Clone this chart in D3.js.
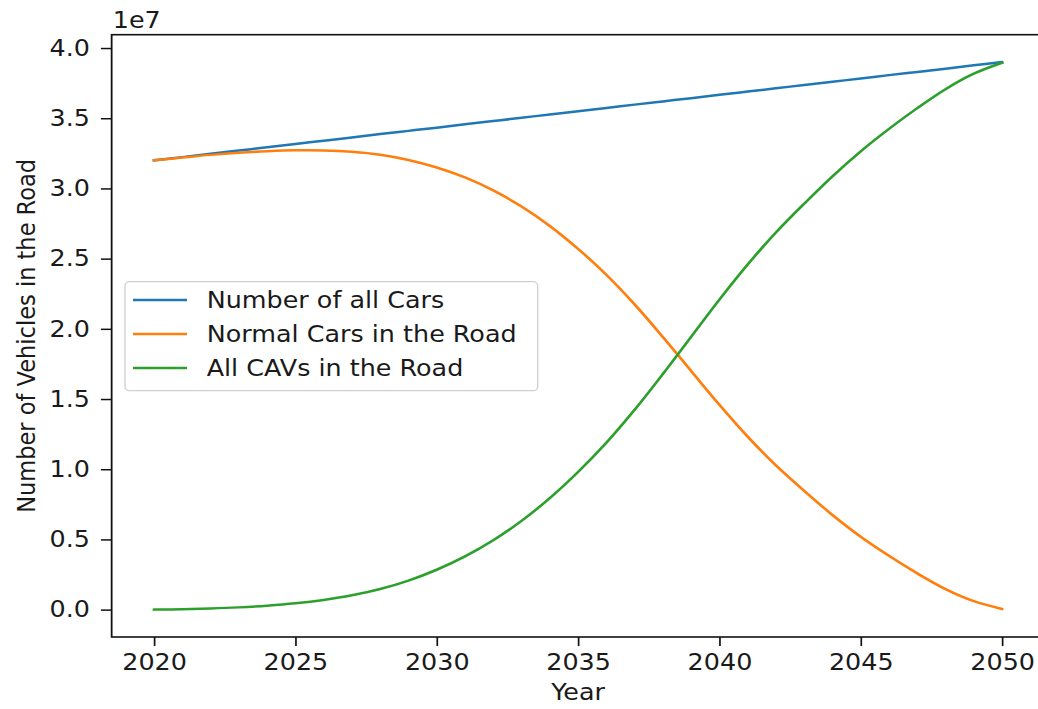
<!DOCTYPE html>
<html>
<head>
<meta charset="utf-8">
<script src="https://cdn.jsdelivr.net/npm/d3@7"></script>
<style>
  body { margin: 0; background: #fff; }
  text { font-family: "DejaVu Sans", sans-serif; fill: #1a1a1a; }
</style>
</head>
<body>
<div id="chart"></div>
<script>
// values in units of 1e7 vehicles
const years = [2020, 2021, 2022, 2023, 2024, 2025, 2026, 2027, 2028, 2029,
               2030, 2031, 2032, 2033, 2034, 2035, 2036, 2037, 2038, 2039,
               2040, 2041, 2042, 2043, 2044, 2045, 2046, 2047, 2048, 2049, 2050];

const allCars = [3.200, 3.223, 3.247, 3.270, 3.293, 3.317, 3.340, 3.363, 3.387, 3.410,
                 3.433, 3.457, 3.480, 3.503, 3.527, 3.550, 3.573, 3.597, 3.620, 3.643,
                 3.667, 3.690, 3.713, 3.737, 3.760, 3.783, 3.807, 3.830, 3.853, 3.877, 3.900];

const normalCars = [3.200, 3.220, 3.239, 3.254, 3.265, 3.272, 3.271, 3.261, 3.240, 3.203,
                    3.149, 3.078, 2.986, 2.871, 2.733, 2.570, 2.385, 2.174, 1.942, 1.700,
                    1.459, 1.232, 1.027, 0.846, 0.674, 0.519, 0.383, 0.258, 0.146, 0.060, 0.005];

const cavs = [0.000, 0.003, 0.008, 0.016, 0.028, 0.045, 0.069, 0.102, 0.147, 0.207,
              0.284, 0.379, 0.494, 0.632, 0.794, 0.980, 1.188, 1.423, 1.678, 1.943,
              2.208, 2.458, 2.686, 2.891, 3.086, 3.264, 3.424, 3.572, 3.707, 3.817, 3.895];

const seriesNames = ["Number of all Cars", "Normal Cars in the Road", "All CAVs in the Road"];
const seriesColors = ["#1f77b4", "#ff7f0e", "#2ca02c"];

const xTicks = [2020, 2025, 2030, 2035, 2040, 2045, 2050];
const yTicks = [0.0, 0.5, 1.0, 1.5, 2.0, 2.5, 3.0, 3.5, 4.0];

const W = 1038, H = 709;
const sx = 1.13; // the picture is a bit wider than tall
const fontSize = 22.5;

const box = {left: 98.8, right: 924.3, top: 34.7, bottom: 637};

const svg = d3.select("#chart").append("svg")
  .attr("width", W)
  .attr("height", H);

const g = svg.append("g").attr("transform", `scale(${sx},1)`);

const x = d3.scaleLinear()
  .domain([2018.5, 2051.5])
  .range([box.left, box.right]);

const y = d3.scaleLinear()
  .domain([-0.195, 4.095])
  .range([box.bottom, box.top]);

// axes
const xAxis = g.append("g")
  .attr("transform", `translate(0,${box.bottom})`)
  .call(d3.axisBottom(x).tickValues(xTicks).tickFormat(d3.format("d"))
    .tickSize(9).tickPadding(8));

const yAxis = g.append("g")
  .attr("transform", `translate(${box.left},0)`)
  .call(d3.axisLeft(y).tickValues(yTicks).tickFormat(d3.format(".1f"))
    .tickSize(9.5).tickPadding(9.7));

[xAxis, yAxis].forEach(a => {
  a.select(".domain").remove();
  a.selectAll(".tick line").attr("stroke", "#111").attr("stroke-width", 1.5);
  a.selectAll(".tick text").style("font-size", fontSize + "px")
    .style("font-family", '"DejaVu Sans", sans-serif').attr("fill", "#1a1a1a");
});

// lines
const seriesData = [allCars, normalCars, cavs];

const line = d3.line()
  .x((d, i) => x(years[i]))
  .y(d => y(d))
  .curve(d3.curveCatmullRom.alpha(0.5));

seriesData.forEach((vals, k) => {
  g.append("path")
    .attr("d", line(vals))
    .attr("fill", "none")
    .attr("stroke", seriesColors[k])
    .attr("stroke-width", 2.5)
    .attr("stroke-linejoin", "round")
    .attr("stroke-linecap", "square");
});

// frame
g.append("rect")
  .attr("x", box.left)
  .attr("y", box.top)
  .attr("width", box.right - box.left)
  .attr("height", box.bottom - box.top)
  .attr("fill", "none")
  .attr("stroke", "#111")
  .attr("stroke-width", 1.6);

// offset text
g.append("text")
  .attr("x", box.left + 1)
  .attr("y", 28)
  .style("font-size", fontSize + "px")
  .text("1e7");

// axis titles
g.append("text")
  .attr("x", (box.left + box.right) / 2)
  .attr("y", 700)
  .attr("text-anchor", "middle")
  .style("font-size", fontSize + "px")
  .text("Year");

g.append("text")
  .attr("transform", `translate(31,${(box.top + box.bottom) / 2}) rotate(-90)`)
  .attr("text-anchor", "middle")
  .style("font-size", fontSize + "px")
  .text("Number of Vehicles in the Road");

// legend
const legend = g.append("g").attr("class", "legend");

legend.append("rect")
  .attr("x", 110.6)
  .attr("y", 281.7)
  .attr("width", 365.2)
  .attr("height", 109)
  .attr("rx", 4)
  .attr("fill", "#fff")
  .attr("fill-opacity", 0.8)
  .attr("stroke", "#d0d0d0")
  .attr("stroke-width", 1.2);

seriesNames.forEach((name, i) => {
  const yPos = 300 + i * 34;
  legend.append("line")
    .attr("x1", 117.7)
    .attr("x2", 165.5)
    .attr("y1", yPos)
    .attr("y2", yPos)
    .attr("stroke", seriesColors[i])
    .attr("stroke-width", 2.5);
  legend.append("text")
    .attr("x", 182.9)
    .attr("y", yPos)
    .attr("dy", "0.36em")
    .style("font-size", fontSize + "px")
    .text(name);
});
</script>
</body>
</html>
